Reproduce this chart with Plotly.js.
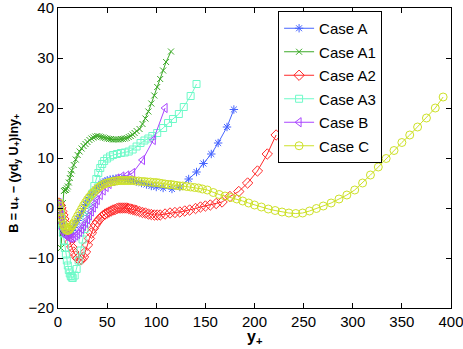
<!DOCTYPE html>
<html>
<head>
<meta charset="utf-8">
<script src="https://cdn.plot.ly/plotly-3.0.1.min.js"></script>
<style>
  html, body { margin: 0; padding: 0; background: #fff; }
  #chart { width: 463px; height: 349px; }
</style>
</head>
<body>
<div id="chart"></div>
<script>
// values
var caseA_x = [1, 2, 3, 4, 5, 6, 7, 8, 9, 10, 11, 12, 14, 16, 18, 20, 22, 24, 26, 28, 30, 32, 34, 36, 38, 40, 42, 44, 46, 48, 50, 53, 56, 59, 62, 65, 68, 71, 74, 77, 80, 85, 90, 95, 100, 107, 116, 124, 133, 141, 148, 156, 163, 172, 179];
var caseA_y = [1, 0, -1.5, -2.8, -3.8, -4.5, -4.9, -5.2, -5.3, -5.3, -5.2, -5, -4.5, -3.9, -3.2, -2.5, -1.7, -0.9, -0.1, 0.7, 1.4, 2.1, 2.7, 3.2, 3.7, 4.1, 4.5, 4.8, 5.1, 5.3, 5.5, 5.7, 5.8, 5.9, 5.9, 5.9, 5.8, 5.7, 5.6, 5.5, 5.3, 5.0, 4.7, 4.4, 4.2, 4.0, 3.8, 4.2, 5.8, 7.2, 8.9, 10.8, 13, 16.2, 19.7];

var caseA1_x = [1, 2, 3, 4, 5, 6, 7, 8, 9, 10, 11, 12, 13, 14, 16, 18, 20, 22, 24, 26, 28, 30, 32, 34, 36, 38, 40, 42, 44, 46, 48, 50, 52, 54, 56, 58, 60, 62, 64, 66, 68, 70, 72, 74, 76, 78, 80, 83, 86, 89, 92, 95, 98, 101, 104, 107, 110, 115];
var caseA1_y = [-1, -3, -8, -5, 1, 3.4, 3.6, 3.6, 3.9, 4.3, 5.1, 6, 6.8, 7.5, 8.6, 9.7, 10.6, 11.3, 11.9, 12.4, 12.8, 13.2, 13.6, 13.9, 14.1, 14.3, 14.4, 14.3, 14.2, 14.1, 14.0, 13.9, 13.8, 13.8, 13.7, 13.7, 13.7, 13.7, 13.8, 13.8, 13.9, 14.0, 14.2, 14.4, 14.7, 15.0, 15.4, 15.8, 16.8, 17.9, 19.3, 20.9, 22.5, 24.2, 25.8, 27.5, 29.2, 31.3];

var caseA2_x = [1, 2, 3, 4, 5, 6, 7, 8, 9, 10, 12, 14, 16, 18, 20, 22, 24, 26, 28, 30, 32, 34, 36, 38, 40, 42, 44, 46, 48, 50, 52, 54, 56, 58, 60, 62, 64, 66, 68, 70, 72, 74, 76, 78, 80, 83, 86, 89, 92, 95, 98, 101, 104, 109, 114, 119, 124, 129, 134, 140, 145, 150, 155, 161, 167, 175, 184, 193, 203, 213, 222];
var caseA2_y = [1, 0.6, 0, -0.7, -1.4, -2.2, -3, -3.8, -4.6, -5.5, -6.8, -7.8, -8.8, -9.6, -10.1, -10.4, -10.3, -9.8, -8.8, -7.4, -6.1, -5.0, -4.1, -3.4, -2.8, -2.3, -1.9, -1.5, -1.2, -1.0, -0.8, -0.6, -0.4, -0.3, -0.1, 0, 0, 0, 0, 0, -0.1, -0.2, -0.3, -0.4, -0.5, -0.7, -0.9, -1.0, -1.2, -1.3, -1.4, -1.4, -1.4, -1.2, -1.0, -0.9, -0.8, -0.6, -0.4, -0.1, 0.2, 0.4, 0.6, 0.9, 1.2, 2.3, 3.3, 5, 7.4, 10.8, 14.6];

var caseA3_x = [1, 2, 3, 4, 5, 6, 7, 8, 9, 10, 11, 12, 13, 14, 15, 17, 19, 21, 23, 25, 27, 29, 31, 33, 35, 37, 39, 41, 43, 45, 47, 50, 53, 56, 60, 64, 68, 72, 76, 80, 84, 88, 92, 96, 101, 107, 112, 117, 123, 128, 135, 141];
var caseA3_y = [0.5, -0.5, -2, -3.5, -5, -6.5, -8, -9.3, -10.5, -11.5, -12.4, -13.1, -13.6, -13.9, -14, -13.5, -12.2, -10.5, -8.5, -6.3, -4.2, -2.2, -0.4, 1.3, 2.9, 4.4, 5.8, 7.0, 8.0, 8.8, 9.4, 9.9, 10.3, 10.6, 10.8, 11.0, 11.1, 11.3, 11.7, 12.3, 13.0, 13.5, 13.9, 14.4, 15, 16, 17, 17.8, 18.8, 20.2, 22.4, 24.8];

var caseB_x = [1, 2, 3, 4, 5, 6, 7, 8, 10, 12, 14, 16, 18, 20, 22, 24, 26, 28, 30, 32, 34, 36, 38, 40, 43, 46, 49, 52, 56, 60, 65, 70, 76, 86, 97, 109];
var caseB_y = [1, 0, -1.5, -3, -4.2, -5, -5.3, -5.5, -5.8, -6, -6, -5.8, -5.5, -5.2, -4.8, -4.2, -3.6, -3, -2.3, -1.5, -0.7, 0.1, 0.9, 1.6, 2.6, 3.5, 4.2, 4.8, 5.4, 5.9, 6.3, 6.5, 7.0, 9.6, 13.6, 20];

var caseC_x = [1, 2, 3, 4, 5, 6, 7, 8, 9, 10, 11, 12, 13, 14, 15, 16, 18, 20, 22, 24, 26, 28, 30, 32, 34, 36, 38, 40, 42, 44, 46, 48, 50, 52, 54, 56, 58, 60, 62, 64, 66, 68, 70, 72, 74, 76, 79, 82, 85, 88, 91, 94, 97, 100, 103, 106, 109, 112, 115, 118, 121, 124, 127, 131, 135, 139, 143, 147, 152, 158, 164, 170, 176, 182, 188, 194, 200, 207, 214, 221, 228, 235, 242, 249, 256, 263, 270, 278, 286, 294, 302, 310, 318, 326, 334, 342, 350, 358, 366, 375, 384, 392];
var caseC_y = [1, 0.3, -0.8, -1.9, -2.8, -3.5, -4, -4.3, -4.5, -4.5, -4.4, -4.2, -3.9, -3.6, -3.3, -3.0, -2.3, -1.6, -0.9, -0.2, 0.5, 1.1, 1.7, 2.2, 2.7, 3.1, 3.5, 3.9, 4.2, 4.5, 4.7, 4.9, 5.0, 5.1, 5.2, 5.3, 5.4, 5.4, 5.5, 5.5, 5.5, 5.5, 5.5, 5.5, 5.5, 5.5, 5.4, 5.4, 5.3, 5.3, 5.2, 5.2, 5.1, 5.1, 5.0, 4.9, 4.8, 4.7, 4.7, 4.6, 4.5, 4.4, 4.4, 4.3, 4.2, 4.1, 4.0, 3.8, 3.6, 3.1, 2.7, 2.4, 2.1, 1.8, 1.4, 1.0, 0.6, 0.2, -0.2, -0.5, -0.8, -1.0, -1.1, -1.0, -0.6, -0.1, 0.4, 1.0, 1.8, 2.6, 3.6, 5.0, 6.6, 8.2, 9.9, 11.5, 13.1, 14.6, 16.2, 18.0, 20.0, 22.2];

var xTicks = [0, 50, 100, 150, 200, 250, 300, 350, 400];
var yTicks = [-20, -10, 0, 10, 20, 30, 40];

function createTrace(x, y, name, color, symbol, size) {
    return {
        x: x,
        y: y,
        mode: 'lines+markers',
        name: name,
        legendgroup: name,
        line: {
            width: 1,
            color: color
        },
        marker: {
            symbol: symbol,
            size: size,
            color: color,
            line: { width: 1, color: color }
        }
    }
}

var data = [
    createTrace(caseA_x, caseA_y, 'Case A', 'rgb(70, 100, 255)', 'asterisk-open', 7),
    createTrace(caseA1_x, caseA1_y, 'Case A1', 'rgb(60, 170, 40)', 'x-thin-open', 6),
    createTrace(caseA2_x, caseA2_y, 'Case A2', 'rgb(255, 40, 40)', 'diamond-open', 8),
    createTrace(caseA3_x, caseA3_y, 'Case A3', 'rgb(110, 250, 200)', 'square-open', 7),
    createTrace(caseB_x, caseB_y, 'Case B', 'rgb(170, 70, 255)', 'triangle-left-open', 8),
    createTrace(caseC_x, caseC_y, 'Case C', 'rgb(205, 225, 40)', 'circle-open', 8)
];

var axisStyle = {
    showline: true,
    linecolor: 'black',
    linewidth: 1,
    mirror: 'ticks',
    ticks: 'inside',
    ticklen: 5,
    tickcolor: 'black',
    showgrid: false,
    zeroline: false,
    tickmode: 'array',
    ticklabeloverflow: 'allow',
    tickfont: { family: 'Liberation Sans, Arial, sans-serif', size: 15, color: 'black' }
};

var layout = {
    width: 463,
    height: 349,
    margin: { l: 58, r: 12, t: 8, b: 41 },
    paper_bgcolor: 'white',
    plot_bgcolor: 'white',
    font: { family: 'Liberation Sans, Arial, sans-serif', color: 'black' },
    xaxis: Object.assign({}, axisStyle, {
        range: [0, 400],
        tickvals: xTicks
    }),
    yaxis: Object.assign({}, axisStyle, {
        range: [-20, 40],
        tickvals: yTicks
    }),
    annotations: [
        {
            text: '<b>y<sub>+</sub></b>',
            xref: 'paper', yref: 'paper',
            x: 0.5, y: -0.097,
            xanchor: 'center', yanchor: 'middle',
            showarrow: false,
            font: { size: 16 }
        },
        {
            text: '<b>B = u<sub>+</sub> − (yd<sub>y</sub> U<sub>+</sub>)lny<sub>+</sub></b>',
            xref: 'paper', yref: 'paper',
            x: -0.11, y: 0.45,
            xanchor: 'center', yanchor: 'middle',
            textangle: -90,
            showarrow: false,
            font: { size: 12.5 }
        }
    ],
    showlegend: true,
    legend: {
        x: 0.56,
        y: 0.99,
        xanchor: 'left',
        yanchor: 'top',
        bgcolor: 'white',
        bordercolor: 'black',
        borderwidth: 1,
        itemwidth: 30,
        tracegroupgap: 1,
        font: { size: 15, color: 'black' }
    }
};

Plotly.newPlot('chart', data, layout, { displayModeBar: false, staticPlot: true });
</script>
</body>
</html>
